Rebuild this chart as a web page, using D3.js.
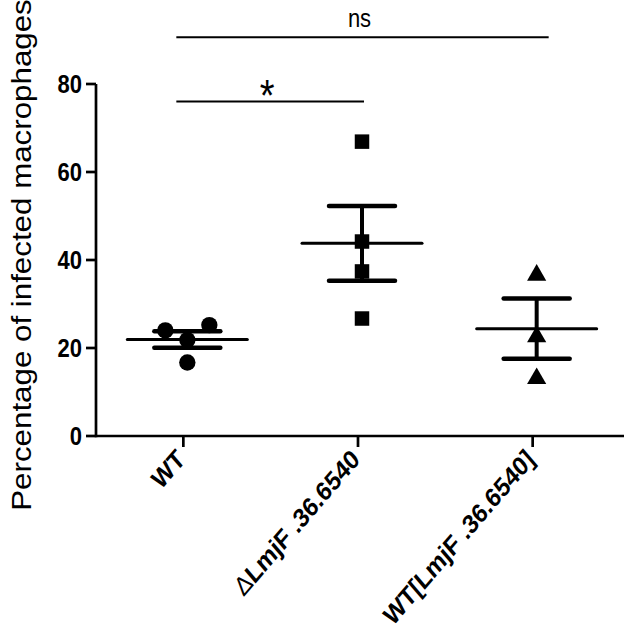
<!DOCTYPE html>
<html>
<head>
<meta charset="utf-8">
<script src="https://cdn.jsdelivr.net/npm/d3@7"></script>
<style>
  body { margin: 0; background: #fff; }
  svg { display: block; font-family: Arial, "Liberation Sans", sans-serif; }
</style>
</head>
<body>
<svg id="chart" width="630" height="632"></svg>
<script>
// data
const groups = ["WT", "ΔLmjF .36.6540", "WT[LmjF .36.6540]"];
const wtValues = [24.0, 25.2, 21.8, 16.7];
const knockoutValues = [66.9, 44.2, 37.4, 26.7];
const addbackValues = [36.9, 22.9, 13.4];
const yTicks = [0, 20, 40, 60, 80];
const yTitle = "Percentage of infected macrophages";
// significance brackets: group index pairs, drawn level in y units
const bracketFrom = [0, 0];
const bracketTo = [1, 2];
const bracketLevel = [76, 90.6];
const bracketLabel = ["*", "ns"];

const series = [wtValues, knockoutValues, addbackValues];
const shapes = [d3.symbolCircle, d3.symbolSquare, d3.symbolTriangle];

const svg = d3.select("#chart");
const SY = 1.16; // the original figure is a bit stretched vertically

const x = d3.scalePoint().domain(groups).range([96, 620]).padding(0.5);
const y = d3.scaleLinear().domain([0, 80]).range([436, 84]);

const shift = 4;
const r = 7.5, gap = 22;

function stretch(sel, tx, ty, rot) {
  return sel.attr("transform", `translate(${tx},${ty}) scale(1,${SY}) rotate(${rot})`);
}

// axes
svg.append("line")
  .attr("x1", 96).attr("x2", 96).attr("y1", y(0) + 1.3).attr("y2", y(80))
  .attr("stroke", "#000").attr("stroke-width", 2.7);
svg.append("line")
  .attr("x1", 96).attr("x2", 624).attr("y1", y(0)).attr("y2", y(0))
  .attr("stroke", "#000").attr("stroke-width", 2.7);

const yt = svg.append("g");
yTicks.forEach(v => {
  yt.append("line")
    .attr("x1", 86).attr("x2", 96).attr("y1", y(v)).attr("y2", y(v))
    .attr("stroke", "#000").attr("stroke-width", 2.7);
  stretch(yt.append("text"), 82, y(v), 0)
    .attr("text-anchor", "end").attr("dy", "0.36em")
    .attr("font-size", 22).attr("font-weight", "bold")
    .text(v);
});

groups.forEach(g => {
  svg.append("line")
    .attr("x1", x(g)).attr("x2", x(g)).attr("y1", y(0)).attr("y2", y(0) + 11)
    .attr("stroke", "#000").attr("stroke-width", 2.7);
  const t = stretch(svg.append("text"), x(g) + 3, 461, -45)
    .attr("text-anchor", "end")
    .attr("font-size", 23).attr("font-weight", "bold");
  if (g[0] === "Δ") {
    t.append("tspan").attr("font-weight", "normal").text("Δ");
    t.append("tspan").text(g.slice(1));
  } else {
    t.text(g);
  }
});

stretch(svg.append("text"), 31, 255, -90)
  .attr("text-anchor", "middle")
  .attr("font-size", 27)
  .text(yTitle);

// points, spread sideways when they would overlap
series.forEach((vals, gi) => {
  const cx = x(groups[gi]) + shift;
  const placed = [];
  vals.map((v, i) => ({ v, i })).sort((a, b) => a.v - b.v).forEach(p => {
    const py = y(p.v);
    let k = 0, off = 0;
    const tries = [0, -gap, gap, -2 * gap, 2 * gap];
    for (k = 0; k < tries.length; k++) {
      off = tries[k];
      const hit = placed.some(q => Math.hypot(q.off - off, q.py - py) < 2 * r + 1);
      if (!hit) break;
    }
    placed.push({ off, py });
  });

  svg.append("g").selectAll("path")
    .data(placed)
    .enter()
    .append("path")
    .attr("d", d3.symbol().type(shapes[gi]).size(gi === 2 ? 160 : 210))
    .attr("transform", d => `translate(${cx + d.off},${d.py + (gi === 2 ? 1.5 : 0)})`)
    .attr("fill", "#000");

  const m = d3.mean(vals);
  const sem = d3.deviation(vals) / Math.sqrt(vals.length);
  const eb = svg.append("g").attr("stroke", "#000");
  eb.append("line")
    .attr("x1", cx).attr("x2", cx).attr("y1", y(m + sem)).attr("y2", y(m - sem))
    .attr("stroke-width", 4);
  [m + sem, m - sem].forEach(v => {
    eb.append("line")
      .attr("x1", cx - 33).attr("x2", cx + 33).attr("y1", y(v)).attr("y2", y(v))
      .attr("stroke-width", 4.5).attr("stroke-linecap", "round");
  });
  eb.append("line")
    .attr("x1", cx - 60).attr("x2", cx + 60).attr("y1", y(m)).attr("y2", y(m))
    .attr("stroke-width", 3).attr("stroke-linecap", "round");
});

// significance brackets
bracketLabel.forEach((lab, i) => {
  const x1 = x(groups[bracketFrom[i]]) - 7;
  const x2 = x(groups[bracketTo[i]]) + (lab === "ns" ? 16 : 6);
  const by = y(bracketLevel[i]);
  svg.append("line")
    .attr("x1", x1).attr("x2", x2).attr("y1", by).attr("y2", by)
    .attr("stroke", "#000").attr("stroke-width", 2);
  stretch(svg.append("text"), (x1 + x2) / 2 - 3, lab === "*" ? by + 9 : by - 10, 0)
    .attr("text-anchor", "middle")
    .attr("font-size", lab === "*" ? 38 : 22)
    .text(lab);
});
</script>
</body>
</html>
